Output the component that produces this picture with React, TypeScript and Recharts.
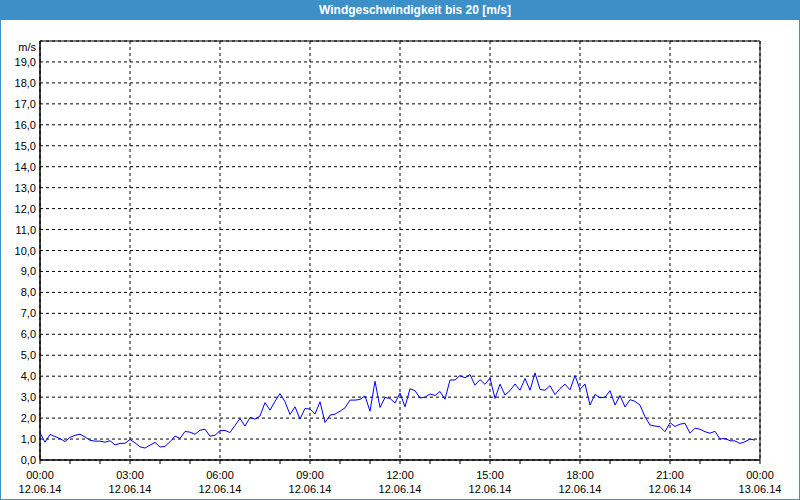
import { LineChart, Line, XAxis, YAxis, CartesianGrid, ReferenceArea } from "recharts";

// wind speed every 10 minutes, 00:00 .. 23:50
const speeds = [
  1.3, 0.85, 1.22, 1.12, 1.02, 0.88, 1.08, 1.18, 1.23, 1.1,
  0.94, 0.9, 0.9, 0.85, 0.92, 0.72, 0.79, 0.8, 0.98, 0.82,
  0.63, 0.57, 0.71, 0.84, 0.62, 0.65, 0.87, 1.14, 1.03, 1.36,
  1.33, 1.23, 1.42, 1.47, 1.14, 1.18, 1.4, 1.41, 1.31, 1.65,
  1.98, 1.62, 2.03, 1.95, 2.1, 2.74, 2.38, 2.8, 3.17, 2.78,
  2.17, 2.54, 1.95, 2.46, 2.43, 2.19, 2.78, 1.79, 2.14, 2.19,
  2.33, 2.49, 2.86, 2.86, 2.89, 3.06, 2.33, 3.76, 2.51, 2.98,
  2.94, 2.72, 3.2, 2.54, 3.4, 3.31, 2.96, 3.0, 3.15, 3.08,
  3.27, 2.9, 3.82, 3.82, 4.03, 3.92, 4.08, 3.57, 3.84, 3.61,
  3.91, 2.94, 3.62, 3.1, 3.31, 3.63, 3.33, 3.89, 3.33, 4.16,
  3.37, 3.33, 3.55, 3.12, 3.41, 3.62, 3.35, 4.03, 3.37, 3.63,
  2.62, 3.13, 2.97, 3.0, 3.31, 2.62, 3.08, 2.53, 2.88, 2.8,
  2.62, 2.06, 1.67, 1.62, 1.59, 1.35, 1.78, 1.6, 1.71, 1.75,
  1.28, 1.52, 1.47, 1.35, 1.28, 1.37, 1.0, 1.03, 0.92, 0.91,
  0.79, 0.87, 1.0, 0.95,
];

const hourTicks = [0, 1, 2, 3, 4, 5, 6, 7, 8, 9, 10, 11, 12, 13, 14, 15, 16, 17, 18, 19, 20, 21, 22, 23, 24];
const labelHours = [0, 3, 6, 9, 12, 15, 18, 21, 24];
const timeLabels = ["00:00", "03:00", "06:00", "09:00", "12:00", "15:00", "18:00", "21:00", "00:00"];
const dateLabels = ["12.06.14", "12.06.14", "12.06.14", "12.06.14", "12.06.14", "12.06.14", "12.06.14", "12.06.14", "13.06.14"];
const yTicks = [0, 1, 2, 3, 4, 5, 6, 7, 8, 9, 10, 11, 12, 13, 14, 15, 16, 17, 18, 19, 20];
const unitLabel = "m/s";
const title = "Windgeschwindigkeit bis 20 [m/s]";

const data = speeds.map((v, i) => ({ t: i / 6, v }));

const FONT = "'Liberation Sans', Arial, sans-serif";
const BLUE = "#3c8fc7";

function XTick({ x, y, payload }: any) {
  const idx = labelHours.indexOf(payload.value);
  if (idx < 0) return <g />;
  return (
    <g>
      <text x={x} y={y + 15} textAnchor="middle" fontSize={11} fontFamily={FONT} fill="#000">
        {timeLabels[idx]}
      </text>
      <text x={x} y={y + 29} textAnchor="middle" fontSize={11} fontFamily={FONT} fill="#000">
        {dateLabels[idx]}
      </text>
    </g>
  );
}

function YTick({ x, y, payload }: any) {
  const v = payload.value;
  const label = v === 20 ? unitLabel : v.toFixed(1).replace(".", ",");
  return (
    <text x={x} y={y + (v === 20 ? 9.5 : 4)} textAnchor="end" fontSize={11} fontFamily={FONT} fill="#000">
      {label}
    </text>
  );
}

export default function App() {
  return (
    <div style={{ position: "absolute", left: 0, top: 0, width: 800, height: 500, background: "#fff" }}>
      <LineChart width={800} height={500} data={data} margin={{ top: 41, right: 40, bottom: 0, left: 0 }}>
        <CartesianGrid xAxisId="grid" stroke="#000" strokeDasharray="3 3" />
        <XAxis
          dataKey="t"
          type="number"
          domain={[0, 24]}
          ticks={hourTicks}
          interval={0}
          height={40}
          tickSize={4}
          tickMargin={0}
          axisLine={{ stroke: "#000" }}
          tickLine={{ stroke: "#000" }}
          tick={<XTick />}
        />
        <XAxis xAxisId="grid" dataKey="t" type="number" domain={[0, 24]} ticks={labelHours} hide />
        <YAxis
          type="number"
          domain={[0, 20]}
          ticks={yTicks}
          interval={0}
          width={40}
          tickSize={0}
          tickMargin={4}
          axisLine={{ stroke: "#000" }}
          tickLine={false}
          tick={<YTick />}
        />
        <ReferenceArea x1={0} x2={24} y1={0} y2={20} stroke="#000" strokeWidth={1} fill="none" fillOpacity={0} />
        <Line
          type="linear"
          dataKey="v"
          stroke="#0000ff"
          strokeWidth={1}
          dot={false}
          activeDot={false}
          isAnimationActive={false}
        />
      </LineChart>
      <div
        style={{
          position: "absolute",
          left: 0,
          top: 0,
          width: 800,
          height: 20,
          background: BLUE,
          color: "#fff",
          fontFamily: FONT,
          fontWeight: "bold",
          fontSize: 12,
          lineHeight: "20px",
          textAlign: "center",
          paddingLeft: 30,
          boxSizing: "border-box",
        }}
      >
        {title}
      </div>
      <div
        style={{
          position: "absolute",
          left: 0,
          top: 0,
          width: 800,
          height: 500,
          border: `1px solid ${BLUE}`,
          boxSizing: "border-box",
          pointerEvents: "none",
        }}
      />
    </div>
  );
}
